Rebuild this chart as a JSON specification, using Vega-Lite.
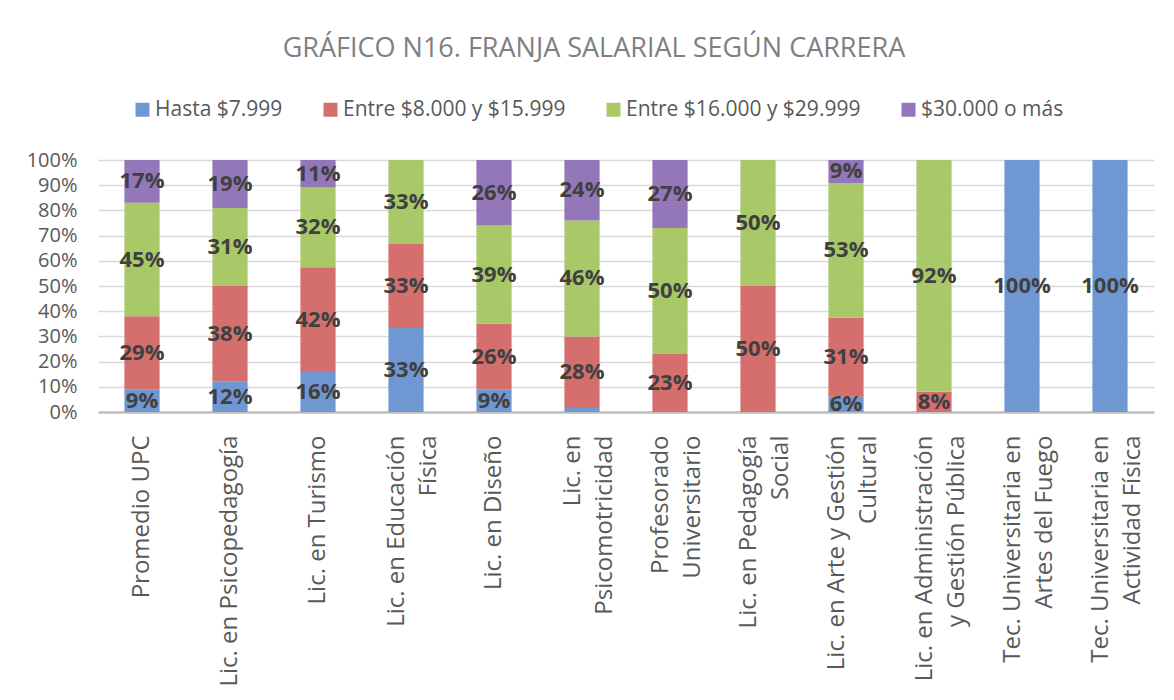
{
  "$schema": "https://vega.github.io/schema/vega-lite/v6.json",
  "width": 1056,
  "height": 252,
  "autosize": {"type": "pad"},
  "padding": {"left": 26, "top": 35, "right": 5, "bottom": 5},
  "background": "white",
  "title": {
    "text": "GRÁFICO N16. FRANJA SALARIAL SEGÚN CARRERA",
    "font": "Open Sans",
    "fontSize": 27,
    "fontWeight": "normal",
    "color": "#808080",
    "anchor": "middle",
    "offset": 36,
    "dx": -32
  },
  "config": {
    "view": {"stroke": null},
    "font": "Open Sans"
  },
  "data": {
    "values": [
      {"carrera": "Promedio UPC", "franja": "Hasta $7.999", "pct": 9},
      {"carrera": "Promedio UPC", "franja": "Entre $8.000 y $15.999", "pct": 29},
      {"carrera": "Promedio UPC", "franja": "Entre $16.000 y $29.999", "pct": 45},
      {"carrera": "Promedio UPC", "franja": "$30.000 o más", "pct": 17},
      {"carrera": "Lic. en Psicopedagogía", "franja": "Hasta $7.999", "pct": 12},
      {"carrera": "Lic. en Psicopedagogía", "franja": "Entre $8.000 y $15.999", "pct": 38},
      {"carrera": "Lic. en Psicopedagogía", "franja": "Entre $16.000 y $29.999", "pct": 31},
      {"carrera": "Lic. en Psicopedagogía", "franja": "$30.000 o más", "pct": 19},
      {"carrera": "Lic. en Turismo", "franja": "Hasta $7.999", "pct": 16},
      {"carrera": "Lic. en Turismo", "franja": "Entre $8.000 y $15.999", "pct": 42},
      {"carrera": "Lic. en Turismo", "franja": "Entre $16.000 y $29.999", "pct": 32},
      {"carrera": "Lic. en Turismo", "franja": "$30.000 o más", "pct": 11},
      {"carrera": "Lic. en Educación\nFísica", "franja": "Hasta $7.999", "pct": 33},
      {"carrera": "Lic. en Educación\nFísica", "franja": "Entre $8.000 y $15.999", "pct": 33},
      {"carrera": "Lic. en Educación\nFísica", "franja": "Entre $16.000 y $29.999", "pct": 33},
      {"carrera": "Lic. en Diseño", "franja": "Hasta $7.999", "pct": 9},
      {"carrera": "Lic. en Diseño", "franja": "Entre $8.000 y $15.999", "pct": 26},
      {"carrera": "Lic. en Diseño", "franja": "Entre $16.000 y $29.999", "pct": 39},
      {"carrera": "Lic. en Diseño", "franja": "$30.000 o más", "pct": 26},
      {"carrera": "Lic. en\nPsicomotricidad", "franja": "Hasta $7.999", "pct": 2},
      {"carrera": "Lic. en\nPsicomotricidad", "franja": "Entre $8.000 y $15.999", "pct": 28},
      {"carrera": "Lic. en\nPsicomotricidad", "franja": "Entre $16.000 y $29.999", "pct": 46},
      {"carrera": "Lic. en\nPsicomotricidad", "franja": "$30.000 o más", "pct": 24},
      {"carrera": "Profesorado\nUniversitario", "franja": "Entre $8.000 y $15.999", "pct": 23},
      {"carrera": "Profesorado\nUniversitario", "franja": "Entre $16.000 y $29.999", "pct": 50},
      {"carrera": "Profesorado\nUniversitario", "franja": "$30.000 o más", "pct": 27},
      {"carrera": "Lic. en Pedagogía\nSocial", "franja": "Entre $8.000 y $15.999", "pct": 50},
      {"carrera": "Lic. en Pedagogía\nSocial", "franja": "Entre $16.000 y $29.999", "pct": 50},
      {"carrera": "Lic. en Arte y Gestión\nCultural", "franja": "Hasta $7.999", "pct": 6},
      {"carrera": "Lic. en Arte y Gestión\nCultural", "franja": "Entre $8.000 y $15.999", "pct": 31},
      {"carrera": "Lic. en Arte y Gestión\nCultural", "franja": "Entre $16.000 y $29.999", "pct": 53},
      {"carrera": "Lic. en Arte y Gestión\nCultural", "franja": "$30.000 o más", "pct": 9},
      {"carrera": "Lic. en Administración\ny Gestión Pública", "franja": "Entre $8.000 y $15.999", "pct": 8},
      {"carrera": "Lic. en Administración\ny Gestión Pública", "franja": "Entre $16.000 y $29.999", "pct": 92},
      {"carrera": "Tec. Universitaria en\nArtes del Fuego", "franja": "Hasta $7.999", "pct": 100},
      {"carrera": "Tec. Universitaria en\nActividad Física", "franja": "Hasta $7.999", "pct": 100}
    ]
  },
  "transform": [
    {"calculate": "indexof(['Hasta $7.999', 'Entre $8.000 y $15.999', 'Entre $16.000 y $29.999', '$30.000 o más'], datum.franja)", "as": "idx"},
    {"stack": "pct", "groupby": ["carrera"], "sort": [{"field": "idx", "order": "ascending"}], "offset": "normalize", "as": ["y0", "y1"]},
    {"calculate": "(datum.y0 + datum.y1) / 2", "as": "ymid"},
    {"calculate": "datum.pct + '%'", "as": "etiqueta"}
  ],
  "encoding": {
    "x": {
      "field": "carrera",
      "type": "nominal",
      "sort": null,
      "scale": {"paddingInner": 0.6, "paddingOuter": 0.3},
      "axis": {
        "title": null,
        "labelAngle": -90,
        "labelAlign": "right",
        "labelBaseline": "middle",
        "labelFont": "Open Sans",
        "labelFontSize": 24,
        "labelColor": "#595959",
        "labelPadding": 23,
        "labelLineHeight": 32,
        "labelLimit": 0,
        "labelOverlap": false,
        "labelExpr": "split(datum.label, '\\n')",
        "labelOffset": {"expr": "indexof(datum.label, '\\n') >= 0 ? -9 : 0"},
        "ticks": false,
        "domainColor": "#bfbfbf",
        "domainWidth": 2.5,
        "grid": false
      }
    }
  },
  "layer": [
    {
      "mark": {"type": "bar"},
      "encoding": {
        "y": {
          "field": "y0",
          "type": "quantitative",
          "scale": {"domain": [0, 1], "nice": false},
          "axis": {
            "title": null,
            "values": [0, 0.1, 0.2, 0.3, 0.4, 0.5, 0.6, 0.7, 0.8, 0.9, 1],
            "tickCount": 20,
            "format": ".0%",
            "labelFont": "Open Sans",
            "labelFontSize": 20,
            "labelColor": "#595959",
            "labelPadding": 21,
            "labelOverlap": false,
            "ticks": false,
            "domain": false,
            "grid": true,
            "gridColor": "#d9d9d9",
            "gridWidth": 1.5
          }
        },
        "y2": {"field": "y1"},
        "color": {
          "field": "franja",
          "type": "nominal",
          "scale": {
            "domain": ["Hasta $7.999", "Entre $8.000 y $15.999", "Entre $16.000 y $29.999", "$30.000 o más"],
            "range": ["#6f98d3", "#d46f6d", "#a9c868", "#9477b8"]
          },
          "legend": {
            "title": null,
            "orient": "none",
            "direction": "horizontal",
            "legendX": 34,
            "legendY": -61,
            "symbolType": "square",
            "symbolSize": 196,
            "symbolStrokeWidth": 0,
            "labelFont": "Open Sans",
            "labelFontSize": 21,
            "labelColor": "#595959",
            "labelOffset": 2,
            "columnPadding": 37,
            "padding": 0,
            "labelLimit": 0
          }
        }
      }
    },
    {
      "transform": [{"filter": "datum.pct >= 5"}],
      "mark": {"type": "text", "font": "Open Sans", "fontSize": 22, "fontWeight": "bold", "color": "#404040"},
      "encoding": {
        "y": {
          "field": "ymid",
          "type": "quantitative",
          "scale": {"domain": [0, 1], "nice": false},
          "axis": {
            "title": null,
            "values": [0, 0.1, 0.2, 0.3, 0.4, 0.5, 0.6, 0.7, 0.8, 0.9, 1],
            "tickCount": 20,
            "format": ".0%",
            "labelFont": "Open Sans",
            "labelFontSize": 20,
            "labelColor": "#595959",
            "labelPadding": 21,
            "labelOverlap": false,
            "ticks": false,
            "domain": false,
            "grid": true,
            "gridColor": "#d9d9d9",
            "gridWidth": 1.5
          }
        },
        "text": {"field": "etiqueta"}
      }
    }
  ]
}
